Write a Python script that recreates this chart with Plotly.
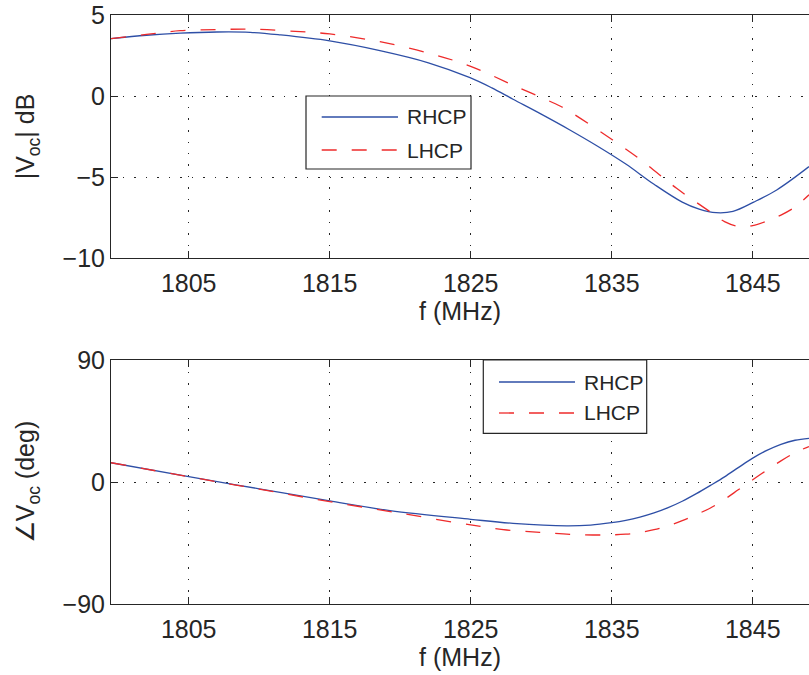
import plotly.graph_objects as go

# ---------------- data ----------------
f_mag_rhcp = [1799.49, 1802, 1804.4, 1807, 1809.35, 1811.5, 1815, 1818.56, 1822, 1824.95,
              1826.5, 1828, 1830, 1832, 1834, 1836, 1838, 1840, 1841.2, 1842.4, 1843.6,
              1845.07, 1846.7, 1848.99]
mag_rhcp = [3.54, 3.75, 3.88, 3.95, 3.93, 3.77, 3.40, 2.80, 2.05, 1.13,
            0.50, -0.20, -1.12, -2.08, -3.10, -4.20, -5.45, -6.55, -6.98, -7.20, -7.12,
            -6.55, -5.80, -4.36]

f_mag_lhcp = [1799.49, 1802, 1804.4, 1807, 1809.35, 1812, 1815, 1818.56, 1822, 1824.95,
              1828, 1831.33, 1832.04, 1835.07, 1837.24, 1839.6, 1842, 1843, 1844,
              1845, 1846, 1847, 1848, 1848.99]
mag_lhcp = [3.54, 3.80, 4.03, 4.10, 4.13, 4.02, 3.83, 3.35, 2.65, 1.85,
            0.67, -0.62, -0.97, -2.72, -4.06, -5.70, -7.16, -7.75, -8.05,
            -8.00, -7.72, -7.35, -6.85, -6.10]

f_ph_rhcp = [1799.49, 1805, 1810, 1815, 1819.27, 1825, 1828, 1831.8, 1833.5, 1835,
             1836, 1837, 1838, 1839, 1840, 1841, 1842, 1843, 1844, 1845, 1846, 1847,
             1848, 1848.99]
ph_rhcp = [14.2, 3.9, -5.0, -14.0, -21.1, -27.5, -30.5, -32.4, -31.8, -30.0,
           -28.3, -25.9, -22.8, -18.9, -14.2, -8.6, -2.5, 3.8, 10.8, 17.6, 23.3, 27.8,
           30.8, 32.2]

f_ph_lhcp = [1799.49, 1805, 1810, 1815, 1820, 1825, 1827.55, 1829.9, 1832.04, 1834.38,
             1836, 1837, 1838, 1839, 1840, 1841, 1842, 1843, 1844, 1845, 1846, 1847,
             1848, 1848.99]
ph_lhcp = [14.2, 3.9, -5.3, -14.5, -23.0, -31.7, -35.4, -37.1, -38.6, -39.1,
           -38.5, -37.3, -35.2, -32.3, -28.5, -24.0, -19.2, -12.8, -5.6, 1.6, 8.8, 15.6,
           21.6, 26.2]

x_ticks = [1805, 1815, 1825, 1835, 1845]
mag_ticks = [-10, -5, 0, 5]
ph_ticks = [-90, 0, 90]
series_names = ["RHCP", "LHCP"]

# ---------------- style ----------------
W, H = 809, 675
ML, MR, MT, MB = 111, 0, 15, 71
BLUE = "#2e4fa6"
RED = "#ee2b2b"
INK = "#262626"
FONT = "Liberation Sans, Arial, sans-serif"
DASH = "15px,15px"
XR = [1799.49, 1848.99]
TICK_FS = 25
TITLE_FS = 25
LEG_FS = 21

PW = W - ML - MR
PH = H - MT - MB


def px(xp):
    return (xp - ML) / PW


def py(yp):
    return (H - MB - yp) / PH


top_dom = [py(258), 1.0]
bot_dom = [0.0, py(360)]

fig = go.Figure()
fig.add_trace(go.Scatter(x=f_mag_rhcp, y=mag_rhcp, mode="lines", name=series_names[0],
                         xaxis="x", yaxis="y",
                         line=dict(color=BLUE, width=1.3, shape="spline")))
fig.add_trace(go.Scatter(x=f_mag_lhcp, y=mag_lhcp, mode="lines", name=series_names[1],
                         xaxis="x", yaxis="y",
                         line=dict(color=RED, width=1.3, dash=DASH, shape="spline")))
fig.add_trace(go.Scatter(x=f_ph_rhcp, y=ph_rhcp, mode="lines", name=series_names[0],
                         xaxis="x2", yaxis="y2",
                         line=dict(color=BLUE, width=1.3, shape="spline")))
fig.add_trace(go.Scatter(x=f_ph_lhcp, y=ph_lhcp, mode="lines", name=series_names[1],
                         xaxis="x2", yaxis="y2",
                         line=dict(color=RED, width=1.3, dash=DASH, shape="spline")))

grid = dict(showgrid=True, gridcolor=INK, gridwidth=1, griddash="1.5px,10px")
common_x = dict(range=XR, tickvals=x_ticks, ticks="inside", ticklen=7, tickcolor=INK,
                showline=True, linecolor=INK, linewidth=1, mirror="ticks", zeroline=False,
                tickfont=dict(size=TICK_FS, color=INK, family=FONT), ticklabelstandoff=3,
                **grid)
common_y = dict(ticks="inside", ticklen=7, tickcolor=INK, showline=True, linecolor=INK,
                linewidth=1, mirror=False, zeroline=False,
                tickfont=dict(size=TICK_FS, color=INK, family=FONT), **grid)

fig.update_layout(
    width=W, height=H,
    margin=dict(l=ML, r=MR, t=MT, b=MB, pad=0),
    paper_bgcolor="white", plot_bgcolor="white",
    showlegend=False,
    font=dict(family=FONT, color=INK, size=TICK_FS),
    xaxis=dict(domain=[0, 1], anchor="y",
               title=dict(text="f (MHz)", font=dict(size=TITLE_FS), standoff=4), **common_x),
    yaxis=dict(domain=top_dom, anchor="x", range=[-10, 5], tickvals=mag_ticks,
               title=dict(text="|V<sub>oc</sub>| dB", font=dict(size=TITLE_FS), standoff=20),
               **common_y),
    xaxis2=dict(domain=[0, 1], anchor="y2",
                title=dict(text="f (MHz)", font=dict(size=TITLE_FS), standoff=4), **common_x),
    yaxis2=dict(domain=bot_dom, anchor="x2", range=[-90, 90], tickvals=ph_ticks,
                title=dict(text="∠V<sub>oc</sub> (deg)", font=dict(size=TITLE_FS), standoff=20),
                **common_y),
)

# ---------------- legends (drawn as boxes with sample lines) ----------------
shapes = []
annotations = []


def add_legend(x0, y0, x1, y1, line_x0, line_x1, text_x, row_y):
    shapes.append(dict(type="rect", xref="paper", yref="paper",
                       x0=px(x0), x1=px(x1), y0=py(y1), y1=py(y0),
                       line=dict(color=INK, width=1.2), fillcolor="white", layer="above"))
    for name, color, dash, yy in zip(series_names, [BLUE, RED], ["solid", DASH], row_y):
        shapes.append(dict(type="line", xref="paper", yref="paper",
                           x0=px(line_x0), x1=px(line_x1), y0=py(yy), y1=py(yy),
                           line=dict(color=color, width=1.3, dash=dash), layer="above"))
        annotations.append(dict(xref="paper", yref="paper", x=px(text_x), y=py(yy),
                                text=name, showarrow=False, xanchor="left", yanchor="middle",
                                font=dict(size=LEG_FS, color=INK, family=FONT)))


add_legend(306, 96, 471, 169, 321.7, 398, 405, [117, 150])
add_legend(483.3, 360, 646.7, 433.3, 499, 575, 582, [382, 413])

fig.update_layout(shapes=shapes, annotations=annotations)

fig.write_html("out.html")
